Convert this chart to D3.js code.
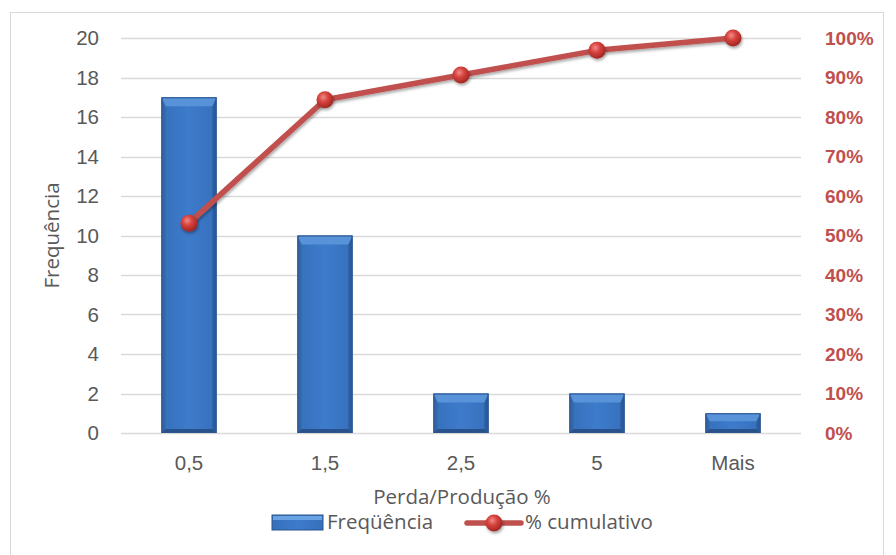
<!DOCTYPE html>
<html>
<head>
<meta charset="utf-8">
<script src="https://cdn.jsdelivr.net/npm/d3@7"></script>
<style>
  html, body { margin: 0; padding: 0; background: #fff; }
  svg { display: block; font-family: "Open Sans", Lato, sans-serif; }
</style>
</head>
<body>
<svg id="chart" width="896" height="555"></svg>
<script>
// Pareto data: loss/production classes
const categories = ["0,5", "1,5", "2,5", "5", "Mais"];
const frequencies = [17, 10, 2, 2, 1];
const cumulativePct = [0.53125, 0.84375, 0.90625, 0.96875, 1.0];
const leftTicks = [0, 2, 4, 6, 8, 10, 12, 14, 16, 18, 20];
const rightTicks = [0, 0.1, 0.2, 0.3, 0.4, 0.5, 0.6, 0.7, 0.8, 0.9, 1.0];

const svg = d3.select("#chart");
const plot = { left: 121, right: 801, top: 38, bottom: 433 };

const red = "#C0504D";
const grey = "#595959";
const fs = 20.5;
const fsRight = 19;

// chart frame
svg.append("rect").attr("x", 10.5).attr("y", 12.5).attr("width", 873).attr("height", 550)
  .attr("fill", "#fff").attr("stroke", "#d9d9d9").attr("stroke-width", 1);

const x = d3.scaleBand().domain(categories).range([plot.left, plot.right]).paddingInner(0.595).paddingOuter(0.2975);
const y = d3.scaleLinear().domain([0, 20]).range([plot.bottom, plot.top]);
const y2 = d3.scaleLinear().domain([0, 1]).range([plot.bottom, plot.top]);

const defs = svg.append("defs");
const bg = defs.append("linearGradient").attr("id", "barGrad").attr("x1", 0).attr("x2", 1).attr("y1", 0).attr("y2", 0);
bg.append("stop").attr("offset", "0%").attr("stop-color", "#3670ba");
bg.append("stop").attr("offset", "50%").attr("stop-color", "#3d7bcb");
bg.append("stop").attr("offset", "100%").attr("stop-color", "#3670bb");

const mg = defs.append("radialGradient").attr("id", "markerGrad").attr("cx", "40%").attr("cy", "35%").attr("r", "65%");
mg.append("stop").attr("offset", "0%").attr("stop-color", "#f08a86");
mg.append("stop").attr("offset", "45%").attr("stop-color", "#d6423d");
mg.append("stop").attr("offset", "100%").attr("stop-color", "#a02622");

const sh = defs.append("filter").attr("id", "shadow").attr("x", "-50%").attr("y", "-50%").attr("width", "200%").attr("height", "200%");
sh.append("feDropShadow").attr("dx", 1).attr("dy", 2).attr("stdDeviation", 1.5).attr("flood-color", "#000").attr("flood-opacity", 0.35);

// gridlines
svg.append("g").selectAll("line").data(leftTicks).join("line")
  .attr("x1", plot.left).attr("x2", plot.right)
  .attr("y1", d => Math.round(y(d)) + 0.5).attr("y2", d => Math.round(y(d)) + 0.5)
  .attr("stroke", "#d9d9d9").attr("stroke-width", 1.3);

// left axis
const leftAxis = svg.append("g").attr("transform", `translate(${plot.left},0)`)
  .call(d3.axisLeft(y).tickValues(leftTicks).tickSize(0).tickPadding(22));
leftAxis.select(".domain").remove();
leftAxis.selectAll("text").attr("fill", grey).attr("font-size", fs);

// right axis
const rightAxis = svg.append("g").attr("transform", `translate(${plot.right},0)`)
  .call(d3.axisRight(y2).tickValues(rightTicks).tickFormat(d3.format(".0%")).tickSize(0).tickPadding(24));
rightAxis.select(".domain").remove();
rightAxis.selectAll("text").attr("fill", red).attr("font-size", fsRight).attr("font-weight", "bold");

// bottom axis labels
const bottomAxis = svg.append("g").attr("transform", `translate(0,${plot.bottom})`)
  .call(d3.axisBottom(x).tickSize(0).tickPadding(22));
bottomAxis.select(".domain").remove();
bottomAxis.selectAll("text").attr("fill", grey).attr("font-size", fs);

// beveled bars
const bars = svg.append("g").selectAll("g").data(categories.map((c, i) => ({ c, v: frequencies[i] }))).join("g");
bars.each(function(d) {
  const g = d3.select(this);
  const x0 = x(d.c), w = x.bandwidth();
  const y0 = y(d.v), y1 = y(0), h = y1 - y0;
  const b = Math.min(9, h / 2.5);
  const s = 4;
  g.append("rect").attr("x", x0).attr("y", y0).attr("width", w).attr("height", h).attr("fill", "url(#barGrad)");
  // top bevel
  g.append("path").attr("d", `M${x0},${y0}H${x0 + w}L${x0 + w - s},${y0 + b}H${x0 + s}Z`).attr("fill", "#5893da");
  // left and right bevel
  g.append("path").attr("d", `M${x0},${y0}L${x0 + s},${y0 + b}V${y1 - s}L${x0},${y1}Z`).attr("fill", "#3466a9");
  g.append("path").attr("d", `M${x0 + w},${y0}L${x0 + w - s},${y0 + b}V${y1 - s}L${x0 + w},${y1}Z`).attr("fill", "#2d5c9a");
  // bottom bevel
  g.append("path").attr("d", `M${x0},${y1}L${x0 + s},${y1 - s}H${x0 + w - s}L${x0 + w},${y1}Z`).attr("fill", "#29528c");
  g.append("rect").attr("x", x0 + 0.5).attr("y", y0 + 0.5).attr("width", w - 1).attr("height", h - 1)
    .attr("fill", "none").attr("stroke", "#2a548c").attr("stroke-width", 1);
});

// cumulative line
const cx = c => x(c) + x.bandwidth() / 2;
const line = d3.line().x((d, i) => cx(categories[i])).y(d => y2(d));
svg.append("path").datum(cumulativePct).attr("d", line)
  .attr("fill", "none").attr("stroke", red).attr("stroke-width", 5.5).attr("stroke-linejoin", "round")
  .attr("filter", "url(#shadow)");

svg.append("g").selectAll("circle").data(cumulativePct).join("circle")
  .attr("cx", (d, i) => cx(categories[i])).attr("cy", d => y2(d)).attr("r", 8.5)
  .attr("fill", "url(#markerGrad)").attr("filter", "url(#shadow)");

// axis titles
svg.append("text").attr("transform", `translate(59,${(plot.top + plot.bottom) / 2}) rotate(-90)`)
  .attr("text-anchor", "middle").attr("fill", grey).attr("font-size", fs).text("Frequência");
svg.append("text").attr("x", 462).attr("y", 504)
  .attr("text-anchor", "middle").attr("fill", grey).attr("font-size", fs).text("Perda/Produção %");

// legend
const lg = svg.append("g");
lg.append("rect").attr("x", 272).attr("y", 515).attr("width", 51).attr("height", 15).attr("fill", "url(#barGrad)").attr("stroke", "#2a548c");
lg.append("rect").attr("x", 273).attr("y", 516).attr("width", 49).attr("height", 4).attr("fill", "#6aa3e4");
lg.append("text").attr("x", 327).attr("y", 529).attr("fill", grey).attr("font-size", fs).text("Freqüência");
lg.append("line").attr("x1", 467).attr("x2", 521).attr("y1", 523).attr("y2", 523)
  .attr("stroke", red).attr("stroke-width", 5.5).attr("stroke-linecap", "round");
lg.append("circle").attr("cx", 494).attr("cy", 523).attr("r", 8.5).attr("fill", "url(#markerGrad)").attr("filter", "url(#shadow)");
lg.append("text").attr("x", 525).attr("y", 529).attr("fill", grey).attr("font-size", fs).text("% cumulativo");
</script>
</body>
</html>
